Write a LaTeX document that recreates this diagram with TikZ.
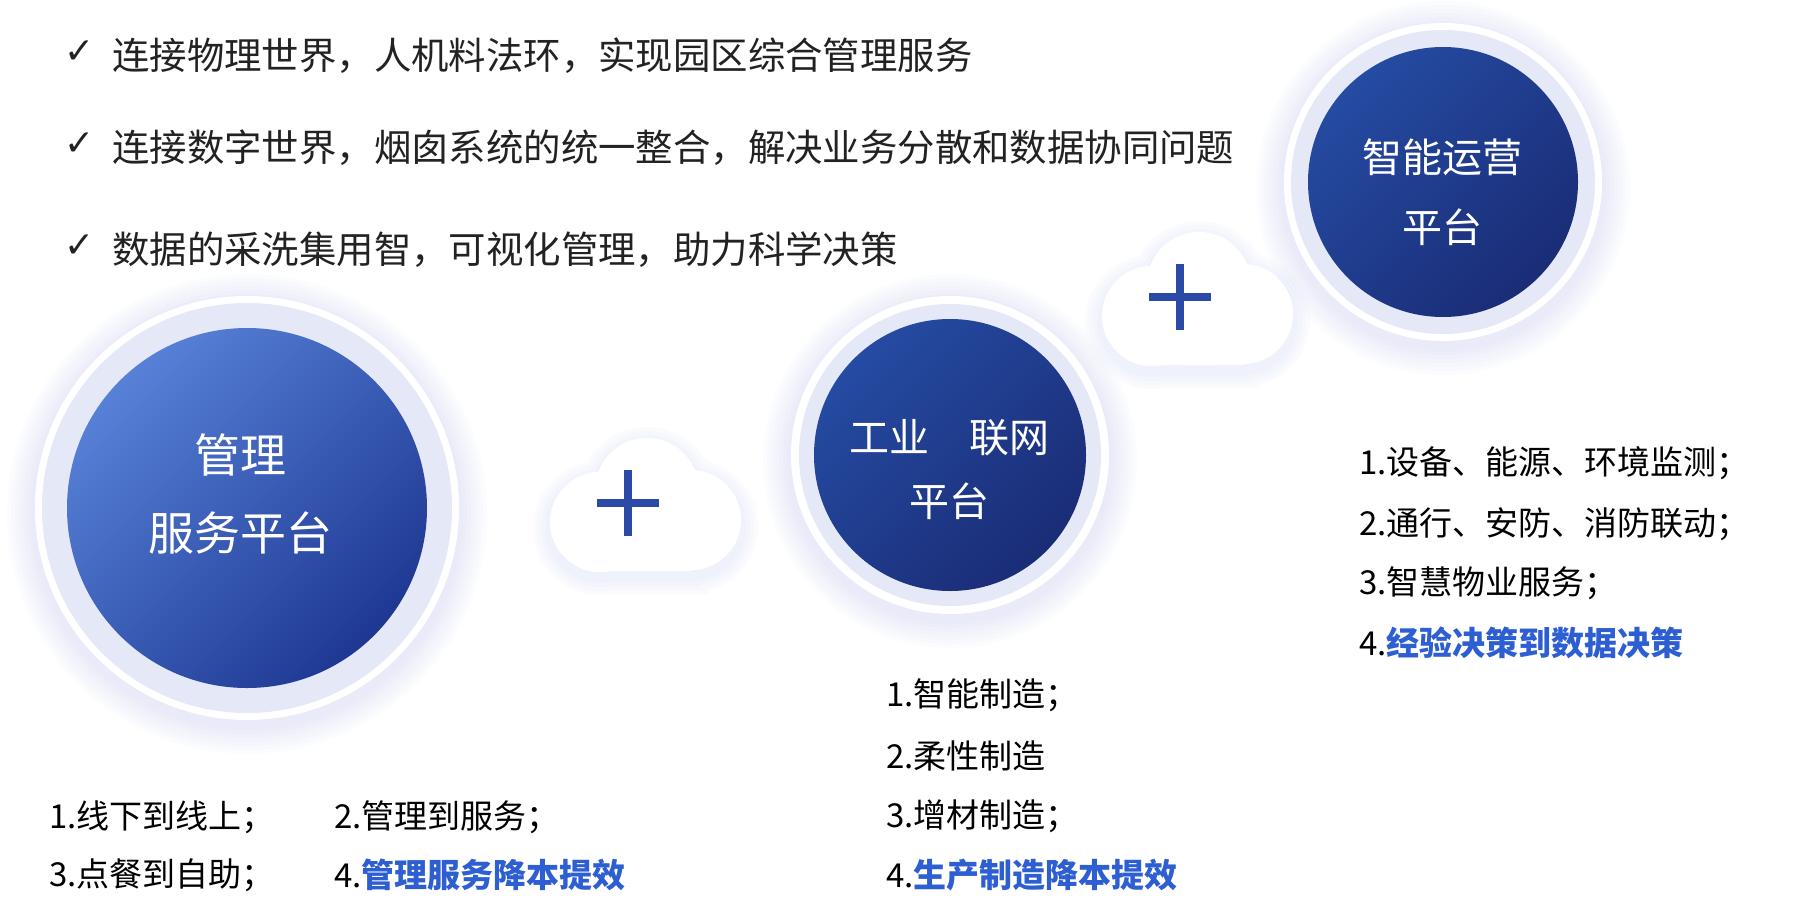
\documentclass[tikz,border=0pt]{standalone}
\usepackage{fontspec}
\setmainfont{Noto Sans CJK SC}
\newfontfamily\checkfont{DejaVu Sans}
\usetikzlibrary{positioning}

\definecolor{bodytext}{HTML}{222222}
\definecolor{keyblue}{HTML}{2D5FD3}
\definecolor{ringband}{HTML}{E4E8F7}
\definecolor{haloblue}{HTML}{9FB0E6}
\definecolor{crossblue}{HTML}{2B49A6}
\definecolor{discAlight}{HTML}{5781D7}
\definecolor{discAdark}{HTML}{1E3892}
\definecolor{discBlight}{HTML}{254BA2}
\definecolor{discBdark}{HTML}{1A2C76}

\tikzset{
  checkmark/.style={inner sep=0pt, text=bodytext, font=\checkfont\fontsize{36}{36}\selectfont},
  headline/.style={anchor=west, inner sep=0pt, text=bodytext, font=\fontsize{37.4}{40}\selectfont},
  listline/.style={anchor=west, inner sep=0pt, text=black, font=\fontsize{33}{36}\selectfont},
  disc/.style={circle, inner sep=0pt, minimum size=#1},
  discA/.style={disc=#1, top color=discAlight, bottom color=discAdark, shading angle=45},
  discB/.style={disc=#1, top color=discBlight, bottom color=discBdark, shading angle=45},
  disctext/.style={align=center, inner sep=0pt, text=white},
  pluscloud/.pic={
    \foreach \w in {34,26,18,10}
      \draw[haloblue, opacity=0.04, line width=\w pt, yshift=-6pt]
        (19,-13) circle[radius=52pt] (-28,19) circle[radius=50pt]
        (63,17) circle[radius=50pt] (-28,19) rectangle (63,68);
    \fill[white] (19,-13) circle[radius=52pt] (-28,19) circle[radius=50pt]
      (63,17) circle[radius=50pt] (-28,19) rectangle (63,68);
    \draw[crossblue, line width=8pt] (-31,0) -- (31,0) (0,-33) -- (0,33);
  }
}

\begin{document}
\begin{tikzpicture}[x=1pt,y=-1pt]
\useasboundingbox (0,0) rectangle (1802,908);
\fill[white] (0,0) rectangle (1802,908);

% halo, white rim and light band behind each platform
\foreach \cx/\cy/\rw/\rb in {247/508/212/205, 950/455/159/151, 1443/182/159/152} {
  \foreach \g in {28,24,...,4}
    \fill[haloblue, opacity=0.03] (\cx,\cy+6) circle[radius=\rw pt+\g pt];
  \fill[white] (\cx,\cy) circle[radius=\rw pt];
  \fill[ringband] (\cx,\cy) circle[radius=\rb pt];
}

\node[discA=360pt] (mgmt) at (247,508) {};
\node[discB=272pt] (iiot) at (950,455) {};
\node[discB=270pt] (ops) at (1443,182) {};

\node[disctext, font=\fontsize{46}{78}\selectfont] (mgmttext) at (240,494) {管理\\服务平台};
\node[disctext, font=\fontsize{40}{64}\selectfont] (iiottext) at (949,470) {工业\hspace{1em}联网\\平台};
\node[disctext, font=\fontsize{40}{70}\selectfont] (opstext) at (1442,192) {智能运营\\平台};

\pic at (628,503) {pluscloud};
\pic at (1180,297) {pluscloud};

% top bullets
\node[checkmark] (chk1) at (80,52) {✓};
\node[checkmark] (chk2) at (80,144) {✓};
\node[checkmark] (chk3) at (80,246) {✓};
\node[headline] (head1) at (112,56) {连接物理世界，人机料法环，实现园区综合管理服务};
\node[headline] (head2) at (112,148) {连接数字世界，烟囱系统的统一整合，解决业务分散和数据协同问题};
\node[headline] (head3) at (112,250) {数据的采洗集用智，可视化管理，助力科学决策};

% management list
\node[listline] (mgmt1) at (49,817) {1.线下到线上；};
\node[listline] (mgmt2) at (334,817) {2.管理到服务；};
\node[listline] (mgmt3) at (49,875) {3.点餐到自助；};
\node[listline] (mgmt4) at (334,875) {4.\textcolor{keyblue}{\bfseries 管理服务降本提效}};

% iiot list
\node[listline] (iiot1) at (886,695) {1.智能制造；};
\node[listline] (iiot2) at (886,756) {2.柔性制造};
\node[listline] (iiot3) at (886,816) {3.增材制造；};
\node[listline] (iiot4) at (886,875) {4.\textcolor{keyblue}{\bfseries 生产制造降本提效}};

% ops list
\node[listline] (ops1) at (1359,463) {1.设备、能源、环境监测；};
\node[listline] (ops2) at (1359,524) {2.通行、安防、消防联动；};
\node[listline] (ops3) at (1359,583) {3.智慧物业服务；};
\node[listline] (ops4) at (1359,643) {4.\textcolor{keyblue}{\bfseries 经验决策到数据决策}};
\end{tikzpicture}
\end{document}
